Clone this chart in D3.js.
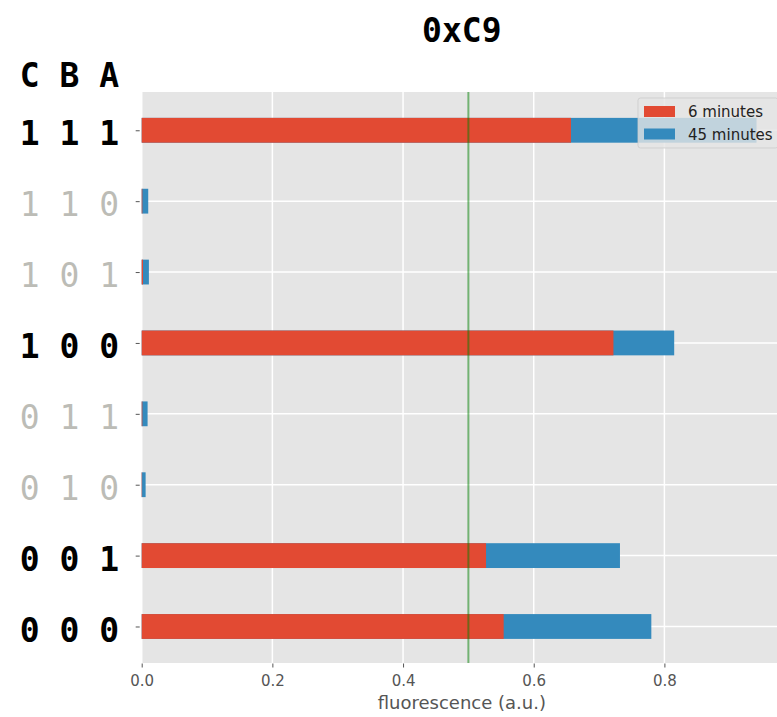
<!DOCTYPE html>
<html>
<head>
<meta charset="utf-8">
<script src="https://cdn.jsdelivr.net/npm/d3@7"></script>
<style>
  html, body { margin: 0; padding: 0; background: #ffffff; }
  svg { display: block; }
</style>
</head>
<body>
<svg id="chart" width="777" height="717"></svg>
<script>
// Input states, bottom (000) to top (111), as C B A
const states = ["0 0 0", "0 0 1", "0 1 0", "0 1 1", "1 0 0", "1 0 1", "1 1 0", "1 1 1"];
// Expected output of the circuit for each state (1 = ON)
const expectedOn = [1, 1, 0, 0, 1, 0, 0, 1];
// Fluorescence readings
const minutes6  = [0.554, 0.527, 0.0006, 0.001, 0.722, 0.002, 0.001, 0.657];
const minutes45 = [0.780, 0.732, 0.006, 0.009, 0.815, 0.011, 0.010, 0.941];
const xTicks = [0.0, 0.2, 0.4, 0.6, 0.8];
const threshold = 0.5;
const title = "0xC9";
const header = "C B A";
const xLabel = "fluorescence (a.u.)";
const seriesNames = ["6 minutes", "45 minutes"];

const colors = { red: "#E24A33", blue: "#348ABD", panel: "#E5E5E5" };
const mono = "'DejaVu Sans Mono', monospace";
const sans = "'DejaVu Sans', sans-serif";

const svg = d3.select("#chart");
const plot = { left: 141.7, right: 782, top: 92, bottom: 663 };

const x = d3.scaleLinear().domain([0, 0.98]).range([plot.left, plot.right]);
const y = d3.scaleLinear().domain([-0.515, 7.54]).range([plot.bottom, plot.top]);
const barH = y(0) - y(0.35);

// panel
svg.append("rect").attr("x", plot.left).attr("y", plot.top)
  .attr("width", plot.right - plot.left).attr("height", plot.bottom - plot.top)
  .attr("fill", colors.panel);

// grid
const grid = svg.append("g").attr("stroke", "#ffffff").attr("stroke-width", 1.5);
grid.selectAll("line.v").data(xTicks).join("line").attr("class", "v")
  .attr("x1", d => x(d)).attr("x2", d => x(d))
  .attr("y1", plot.top).attr("y2", plot.bottom);
grid.selectAll("line.h").data(d3.range(states.length)).join("line").attr("class", "h")
  .attr("x1", plot.left).attr("x2", plot.right)
  .attr("y1", d => y(d)).attr("y2", d => y(d));

// bars: 45 minutes underneath, 6 minutes on top
const idx = d3.range(states.length);
svg.append("g").selectAll("rect").data(idx).join("rect")
  .attr("x", x(0)).attr("y", i => y(i) - barH / 2)
  .attr("width", i => x(minutes45[i]) - x(0)).attr("height", barH)
  .attr("fill", colors.blue);
svg.append("g").selectAll("rect").data(idx).join("rect")
  .attr("x", x(0)).attr("y", i => y(i) - barH / 2)
  .attr("width", i => x(minutes6[i]) - x(0)).attr("height", barH)
  .attr("fill", colors.red);

// threshold line
svg.append("line")
  .attr("x1", x(threshold)).attr("x2", x(threshold))
  .attr("y1", plot.top).attr("y2", plot.bottom)
  .attr("stroke", "#008000").attr("stroke-opacity", 0.5).attr("stroke-width", 2);

// x axis
const xAxis = d3.axisBottom(x).tickValues(xTicks).tickFormat(d3.format(".1f"))
  .tickSize(4).tickPadding(8);
const gx = svg.append("g").attr("transform", `translate(0,${plot.bottom + 0.5})`).call(xAxis);
gx.select(".domain").remove();
gx.selectAll(".tick line").attr("stroke", "#555555").attr("stroke-width", 1);
gx.selectAll(".tick text").attr("fill", "#555555")
  .style("font-family", sans).style("font-size", "15px");

svg.append("text").attr("x", (plot.left + plot.right) / 2).attr("y", 709)
  .attr("text-anchor", "middle").attr("fill", "#555555")
  .style("font-family", sans).style("font-size", "18px")
  .text(xLabel);

// y axis ticks
const yAxis = d3.axisLeft(y).tickValues(idx).tickFormat(i => states[i])
  .tickSize(4).tickPadding(16);
const gy = svg.append("g").attr("transform", `translate(${plot.left - 2},0)`).call(yAxis);
gy.select(".domain").remove();
gy.selectAll(".tick line").attr("stroke", "#555555").attr("stroke-width", 1);
gy.selectAll(".tick text")
  .attr("x", 119 - (plot.left - 2)).attr("dy", "0.44em")
  .attr("fill", i => expectedOn[i] ? "#000000" : "#bcbcb6")
  .style("font-family", mono).style("font-size", "33px")
  .style("font-weight", i => expectedOn[i] ? "bold" : "normal");

// column header
svg.append("text").attr("x", 119).attr("y", 87)
  .attr("text-anchor", "end")
  .style("font-family", mono).style("font-size", "33px").style("font-weight", "bold")
  .text(header);

// title
svg.append("text").attr("x", (plot.left + plot.right) / 2).attr("y", 42)
  .attr("text-anchor", "middle")
  .style("font-family", mono).style("font-size", "33px").style("font-weight", "bold")
  .text(title);

// legend
const lg = svg.append("g");
lg.append("rect").attr("x", 638).attr("y", 98).attr("width", 140).attr("height", 50)
  .attr("rx", 2.5)
  .attr("fill", colors.panel).attr("fill-opacity", 0.8)
  .attr("stroke", "#cccccc").attr("stroke-opacity", 0.8).attr("stroke-width", 1);
const legendColors = [colors.red, colors.blue];
seriesNames.forEach((name, k) => {
  const cy = 111.5 + k * 22.5;
  lg.append("rect").attr("x", 644).attr("y", cy - 5.5).attr("width", 31).attr("height", 11)
    .attr("fill", legendColors[k]);
  lg.append("text").attr("x", 688).attr("y", cy + 5.5)
    .attr("fill", "#222222")
    .style("font-family", sans).style("font-size", "15px")
    .text(name);
});
</script>
</body>
</html>
